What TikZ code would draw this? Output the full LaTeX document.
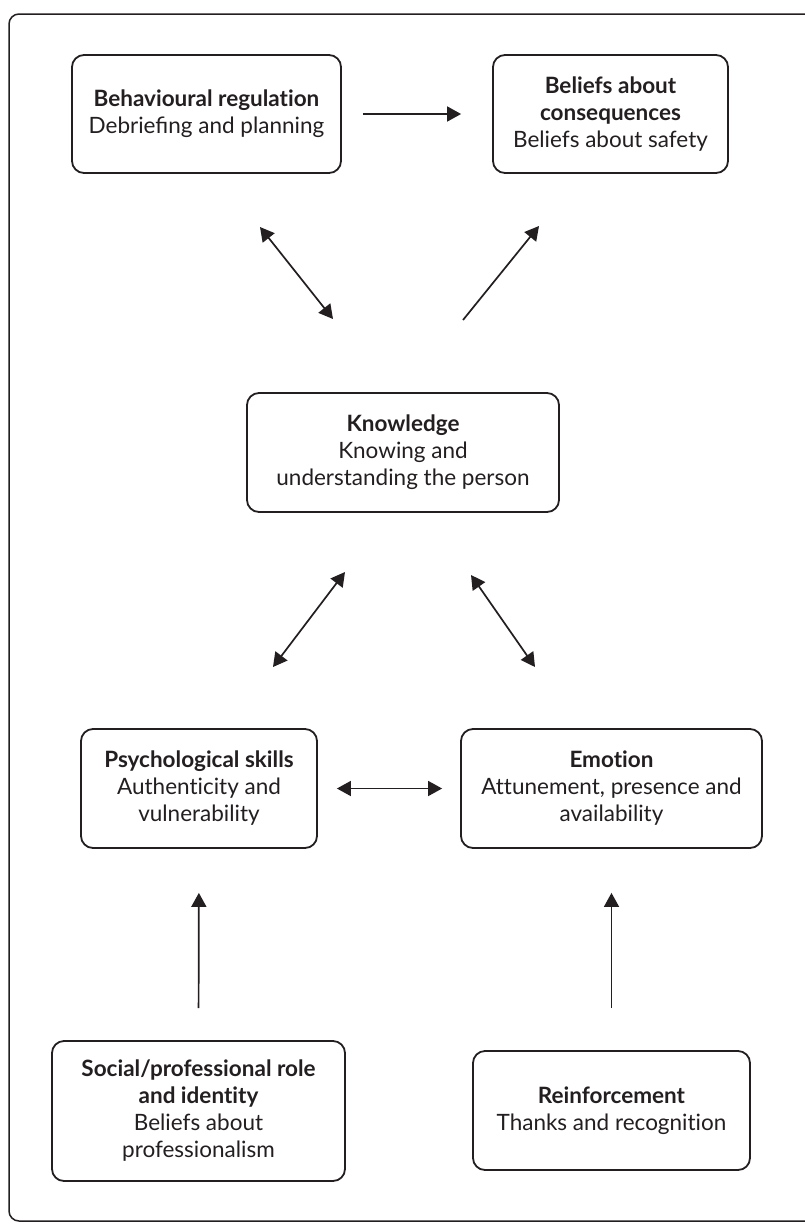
\documentclass[tikz,border=0pt]{standalone}
\usepackage{fontspec}
\setmainfont{Lato}[Ligatures=NoCommon]
\usetikzlibrary{arrows.meta}
\definecolor{ink}{HTML}{231F20}
\tikzset{
  box/.style={draw=ink, line width=1.8pt, rounded corners=12pt, rectangle, align=center,
    text=ink, font=\fontsize{22.5}{27}\selectfont, inner sep=0pt},
  conn/.style={draw=ink, line width=1.7pt, -{Triangle[length=14pt,width=15pt]}},
  bconn/.style={draw=ink, line width=1.7pt, {Triangle[length=14pt,width=15pt]}-{Triangle[length=14pt,width=15pt]}}
}
\begin{document}
\begin{tikzpicture}[x=1pt,y=-1pt]
\useasboundingbox (0,0) rectangle (804,1224);
\draw[ink, line width=1.5pt, rounded corners=10pt] (840,14) -- (9,14) -- (9,1221) -- (840,1221);

\node[box, minimum width=269pt, minimum height=118pt] (br) at (206.5,114) {\textbf{Behavioural regulation}\\Debrie^^^^fb01ng and planning};
\node[box, minimum width=235pt, minimum height=118pt] (bc) at (610.5,114) {\textbf{Beliefs about}\\\textbf{consequences}\\Beliefs about safety};
\node[box, minimum width=312pt, minimum height=119pt] (kn) at (403,452.5) {\textbf{Knowledge}\\Knowing and\\understanding the person};
\node[box, minimum width=236pt, minimum height=119pt] (ps) at (199,788.5) {\textbf{Psychological skills}\\Authenticity and\\vulnerability};
\node[box, minimum width=301pt, minimum height=119pt] (em) at (611.5,788.5) {\textbf{Emotion}\\Attunement, presence and\\availability};
\node[box, minimum width=293pt, minimum height=140pt] (so) at (198.5,1111) {\textbf{Social/professional role}\\\textbf{and identity}\\Beliefs about\\professionalism};
\node[box, minimum width=277pt, minimum height=119pt] (re) at (611.5,1110.5) {\textbf{Reinforcement}\\Thanks and recognition};

\coordinate (a1s) at (260,227);
\coordinate (a1e) at (333,319);
\coordinate (a2s) at (463,320);
\coordinate (a2e) at (539,226);
\coordinate (a3s) at (345,572);
\coordinate (a3e) at (273,667);
\coordinate (a4s) at (471,575);
\coordinate (a4e) at (535,667);

\draw[conn, shorten <=21pt, shorten >=31pt] (br.east) -- (bc.west);
\draw[bconn] (a1s) -- (a1e);
\draw[conn] (a2s) -- (a2e);
\draw[bconn] (a3s) -- (a3e);
\draw[bconn] (a4s) -- (a4e);
\draw[bconn, shorten <=19pt, shorten >=18pt] (ps.east) -- (em.west);
\draw[conn, shorten <=32pt, shorten >=44pt] (so.north) -- (ps.south);
\draw[conn, shorten <=42pt, shorten >=44pt] (re.north) -- (em.south);
\end{tikzpicture}
\end{document}
